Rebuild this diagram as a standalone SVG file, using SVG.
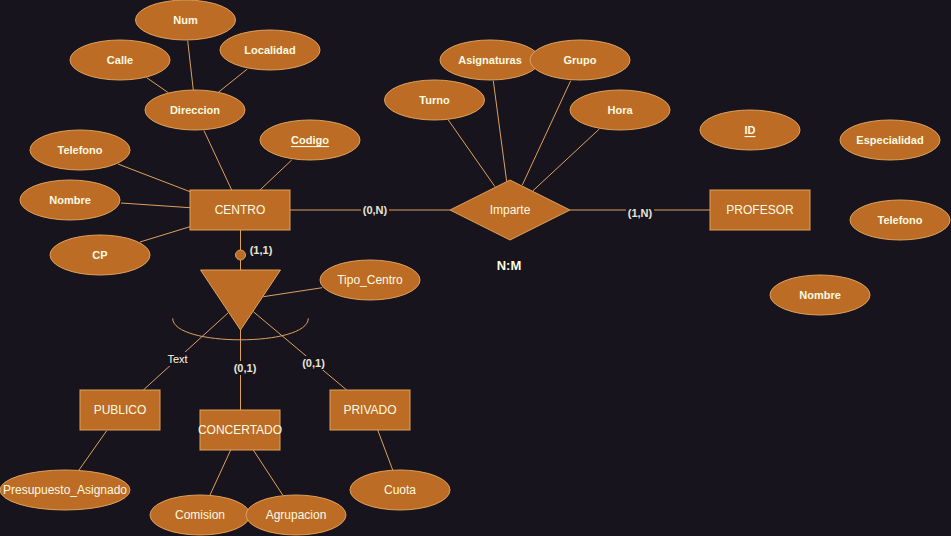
<svg xmlns="http://www.w3.org/2000/svg" width="951" height="536" viewBox="0 0 951 536">
<style>
.n{fill:#BC6C25;stroke:#DDA15E;stroke-width:1}
.e text{font-weight:bold;font-size:11px}
text{font-family:"Liberation Sans",Arial,Helvetica,sans-serif;fill:#FEFAE0;text-anchor:middle;dominant-baseline:central}
.r text{font-size:12px}
.c line,.c path{stroke:#DDA15E;stroke-width:1;fill:none}
.lbl{font-size:11px;font-weight:bold;fill:#E8E4D8}
.lb{fill:#18141D}
</style>
<rect width="951" height="536" fill="#18141D"/>
<g id="connectors" class="c">
<line x1="146.7" y1="77.7" x2="168.3" y2="92.7"/>
<line x1="187.7" y1="40.7" x2="193.3" y2="90"/>
<line x1="247.3" y1="69" x2="218.3" y2="92.3"/>
<line x1="204" y1="130.7" x2="231.7" y2="190"/>
<line x1="291.7" y1="160" x2="260" y2="190"/>
<line x1="118" y1="164" x2="190" y2="191.7"/>
<line x1="121" y1="203" x2="190" y2="207.7"/>
<line x1="140" y1="242" x2="190" y2="226.7"/>
<line x1="290" y1="210" x2="450" y2="210"/>
<line x1="570" y1="210" x2="710" y2="210"/>
<line x1="448.3" y1="120" x2="495" y2="186.7"/>
<line x1="493.3" y1="80.7" x2="506.7" y2="181.7"/>
<line x1="570.7" y1="80.7" x2="522.3" y2="185"/>
<line x1="599.3" y1="129" x2="532.7" y2="191"/>
<line x1="240.5" y1="230" x2="240.5" y2="270"/>
<line x1="263.3" y1="296.7" x2="322.3" y2="287.7"/>
<line x1="228.3" y1="312.7" x2="143.3" y2="390"/>
<line x1="240.5" y1="330" x2="240.5" y2="410"/>
<line x1="253.3" y1="311.7" x2="346.7" y2="390"/>
<path d="M172.7 318.3 C172.7 347 308.3 347 308.3 318.3"/>
<line x1="106.7" y1="430.7" x2="79" y2="470"/>
<line x1="230.7" y1="450" x2="210" y2="495"/>
<line x1="253.3" y1="450" x2="282.7" y2="495"/>
<line x1="377.7" y1="430" x2="392.7" y2="470"/>
<circle cx="240.5" cy="255" r="5" fill="#BC6C25" stroke="#DDA15E"/>
<rect class="lb" x="361" y="203" width="28" height="14"/>
<text class="lbl" x="375" y="210">(0,N)</text>
<rect class="lb" x="626" y="206" width="28" height="14"/>
<text class="lbl" x="640" y="213">(1,N)</text>
<text class="lbl" x="261" y="250">(1,1)</text>
<rect class="lb" x="165" y="352" width="25" height="14"/>
<text x="177.5" y="359" style="font-size:11px">Text</text>
<rect class="lb" x="230" y="361" width="22" height="14"/>
<text class="lbl" x="245" y="368">(0,1)</text>
<rect class="lb" x="301" y="356" width="25" height="14"/>
<text class="lbl" x="313.5" y="362.5">(0,1)</text>
</g>
<g id="CENTRO" class="r"><rect class="n" x="190" y="190" width="100" height="40"/><text x="240" y="210">CENTRO</text></g>
<g id="PROFESOR" class="r"><rect class="n" x="710" y="190" width="100" height="40"/><text x="760" y="210">PROFESOR</text></g>
<g id="PUBLICO" class="r"><rect class="n" x="80" y="390" width="80" height="40"/><text x="120" y="410">PUBLICO</text></g>
<g id="CONCERTADO" class="r"><rect class="n" x="200" y="410" width="80" height="40"/><text x="240" y="430">CONCERTADO</text></g>
<g id="PRIVADO" class="r"><rect class="n" x="330" y="390" width="80" height="40"/><text x="370" y="410">PRIVADO</text></g>
<g id="Imparte" class="r"><polygon class="n" points="510,180 570,210 510,240 450,210"/><text x="510" y="210">Imparte</text></g>
<g id="ISA"><polygon class="n" points="200.5,270 280.5,270 240.5,330"/></g>
<g id="NM"><text x="509" y="265" style="font-weight:bold;font-size:13px">N:M</text></g>
<g id="Num" class="e"><ellipse class="n" cx="185.5" cy="20" rx="50" ry="20"/><text x="185.5" y="20">Num</text></g>
<g id="Calle" class="e"><ellipse class="n" cx="120" cy="60" rx="50" ry="20"/><text x="120" y="60">Calle</text></g>
<g id="Localidad" class="e"><ellipse class="n" cx="270" cy="50" rx="50" ry="20"/><text x="270" y="50">Localidad</text></g>
<g id="Direccion" class="e"><ellipse class="n" cx="195" cy="110" rx="50" ry="20"/><text x="195" y="110">Direccion</text></g>
<g id="Codigo" class="e"><ellipse class="n" cx="310" cy="140" rx="50" ry="20"/><text x="310" y="140" text-decoration="underline">Codigo</text></g>
<g id="Telefono" class="e"><ellipse class="n" cx="80" cy="150" rx="50" ry="20"/><text x="80" y="150">Telefono</text></g>
<g id="Nombre" class="e"><ellipse class="n" cx="70" cy="200" rx="50" ry="20"/><text x="70" y="200">Nombre</text></g>
<g id="CP" class="e"><ellipse class="n" cx="100" cy="255" rx="50" ry="20"/><text x="100" y="255">CP</text></g>
<g id="Turno" class="e"><ellipse class="n" cx="434.5" cy="100" rx="50" ry="20"/><text x="434.5" y="100">Turno</text></g>
<g id="Asignaturas" class="e"><ellipse class="n" cx="490" cy="60" rx="50" ry="20"/><text x="490" y="60">Asignaturas</text></g>
<g id="Grupo" class="e"><ellipse class="n" cx="580" cy="60" rx="50" ry="20"/><text x="580" y="60">Grupo</text></g>
<g id="Hora" class="e"><ellipse class="n" cx="620" cy="110" rx="50" ry="20"/><text x="620" y="110">Hora</text></g>
<g id="ID" class="e"><ellipse class="n" cx="750" cy="130" rx="50" ry="20"/><text x="750" y="130" text-decoration="underline">ID</text></g>
<g id="Especialidad" class="e"><ellipse class="n" cx="890" cy="140" rx="50" ry="20"/><text x="890" y="140">Especialidad</text></g>
<g id="TelefonoP" class="e"><ellipse class="n" cx="900" cy="220" rx="50" ry="20"/><text x="900" y="220">Telefono</text></g>
<g id="NombreP" class="e"><ellipse class="n" cx="820" cy="295" rx="50" ry="20"/><text x="820" y="295">Nombre</text></g>
<g id="Tipo_Centro" class="e"><ellipse class="n" cx="370" cy="280" rx="50" ry="20"/><text x="370" y="280" style="font-weight:normal;font-size:12px">Tipo_Centro</text></g>
<g id="Presupuesto_Asignado" class="e"><ellipse class="n" cx="65" cy="490" rx="65" ry="20"/><text x="65" y="490" style="font-weight:normal;font-size:12px">Presupuesto_Asignado</text></g>
<g id="Comision" class="e"><ellipse class="n" cx="200" cy="515" rx="50" ry="20"/><text x="200" y="515" style="font-weight:normal;font-size:12px">Comision</text></g>
<g id="Agrupacion" class="e"><ellipse class="n" cx="296" cy="515" rx="50" ry="20"/><text x="296" y="515" style="font-weight:normal;font-size:12px">Agrupacion</text></g>
<g id="Cuota" class="e"><ellipse class="n" cx="400" cy="490" rx="50" ry="20"/><text x="400" y="490" style="font-weight:normal;font-size:12px">Cuota</text></g>
</svg>
